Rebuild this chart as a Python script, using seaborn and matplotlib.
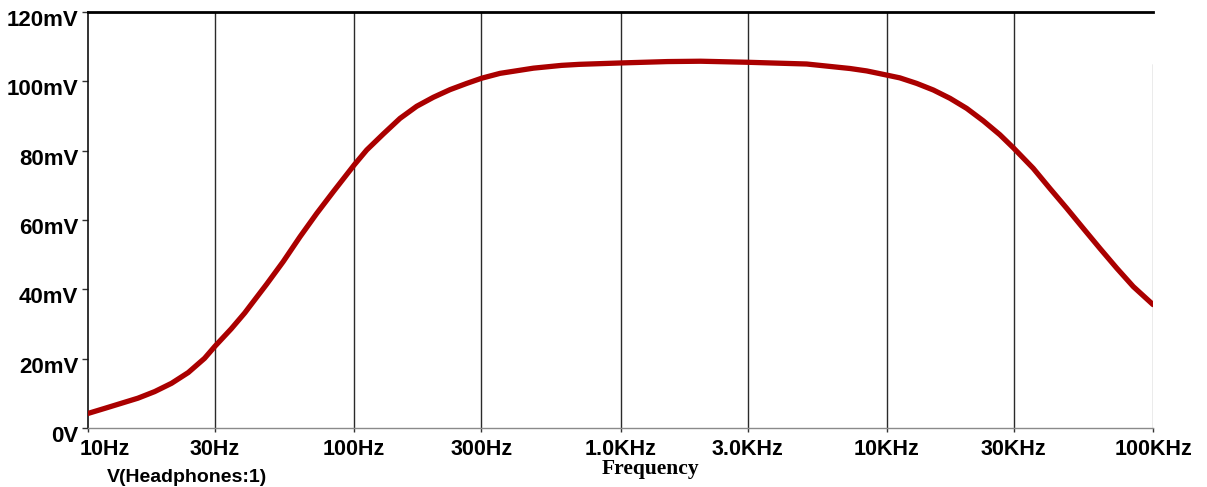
import matplotlib
matplotlib.use("Agg")
import matplotlib.pyplot as plt
from matplotlib.transforms import ScaledTranslation
import seaborn as sns
import pandas as pd

# ---- data ----
freq_hz = [10, 11.6, 13.3, 15.4, 17.8, 20.6, 23.8, 27.4, 30, 34.5, 38.8, 40.6, 46.9,
           54.1, 62.6, 72.3, 83.5, 100, 111.4, 128.5, 148.5, 171.6, 198.2, 228.9,
           264.5, 301, 352.7, 471, 600, 700, 1000, 1500, 2000, 3000, 5000, 7280,
           8410, 10000, 11200, 12960, 14960, 17280, 19960, 23050, 26600, 30000,
           35500, 41000, 47400, 54700, 63200, 73100, 84300, 100000]
v_mv = [4.2, 5.7, 7.1, 8.6, 10.5, 12.9, 16.0, 20.1, 23.6, 28.6, 33.2, 35.2, 41.5,
        48.0, 55.2, 61.9, 68.2, 75.9, 80.2, 84.8, 89.3, 92.8, 95.4, 97.6,
        99.4, 100.9, 102.3, 103.8, 104.6, 104.9, 105.3, 105.7, 105.8, 105.5, 105.0, 103.7,
        103.0, 101.8, 101.0, 99.4, 97.5, 95.1, 92.2, 88.6, 84.6, 80.7,
        74.9, 69.1, 63.4, 57.6, 51.8, 46.1, 40.8, 35.6]
x_ticks = [10, 30, 100, 300, 1000, 3000, 10000, 30000, 100000]
x_tick_labels = ["10Hz", "30Hz", "100Hz", "300Hz", "1.0KHz", "3.0KHz", "10KHz", "30KHz", "100KHz"]
y_ticks = [0, 20, 40, 60, 80, 100, 120]
y_tick_labels = ["0V", "20mV", "40mV", "60mV", "80mV", "100mV", "120mV"]

df = pd.DataFrame({"Frequency": freq_hz, "V": v_mv})

sns.set_style("white")
plt.rcParams['font.family'] = ['Liberation Sans', 'DejaVu Sans']

fig = plt.figure(figsize=(12.07, 4.87), dpi=100)
ax = fig.add_axes([88/1207, 1-428/487, (1153-88)/1207, (428-12)/487])

# vertical grid lines
for xt in x_ticks[1:-1]:
    ax.axvline(xt, color="#2a2a2a", lw=1.0, zorder=1)
ax.axvline(x_ticks[-1], color="#9a9a9a", lw=1.0, ymax=(428-64)/416, zorder=1)

sns.lineplot(data=df, x="Frequency", y="V", ax=ax, color="#AA0000", lw=3.8, zorder=3)

ax.set_xscale("log")
ax.set_xlim(10, 100000)
ax.set_ylim(0, 120)
ax.set_xticks(x_ticks)
ax.set_xticklabels(x_tick_labels)
ax.minorticks_off()
ax.set_yticks(y_ticks)
ax.set_yticklabels(y_tick_labels)
ax.set_xlabel("")
ax.set_ylabel("")

ax.tick_params(axis="y", direction="out", length=4, width=1, color="#333333",
               labelsize=16, pad=3, left=True, labelcolor="black")
ax.tick_params(axis="x", direction="out", length=3, width=1, color="#333333",
               labelsize=15.5, pad=5, bottom=True, labelcolor="black")
for lab in ax.get_yticklabels() + ax.get_xticklabels():
    lab.set_fontweight("bold")

for lab in ax.get_yticklabels():
    lab.set_transform(lab.get_transform() + ScaledTranslation(0, -6/100, fig.dpi_scale_trans))
xl = ax.get_xticklabels()
xl[0].set_horizontalalignment("left")
xl[0].set_transform(xl[0].get_transform() + ScaledTranslation(-8/100, 0, fig.dpi_scale_trans))

ax.spines["right"].set_visible(False)
ax.spines["top"].set_color("black")
ax.spines["top"].set_linewidth(2.0)
ax.spines["left"].set_color("#111111")
ax.spines["left"].set_linewidth(1.2)
ax.spines["bottom"].set_color("#8a8a8a")
ax.spines["bottom"].set_linewidth(1.0)

fig.text(650/1207, 1-469/487, "Frequency", family=["Liberation Serif", "DejaVu Serif"],
         fontsize=15.5, fontweight="bold", ha="center", va="center", color="black")
fig.text(107/1207, 1-478/487, "V(Headphones:1)", fontsize=14, fontweight="bold",
         ha="left", va="center", color="black")

fig.savefig("out.png", dpi=100, facecolor="white")
